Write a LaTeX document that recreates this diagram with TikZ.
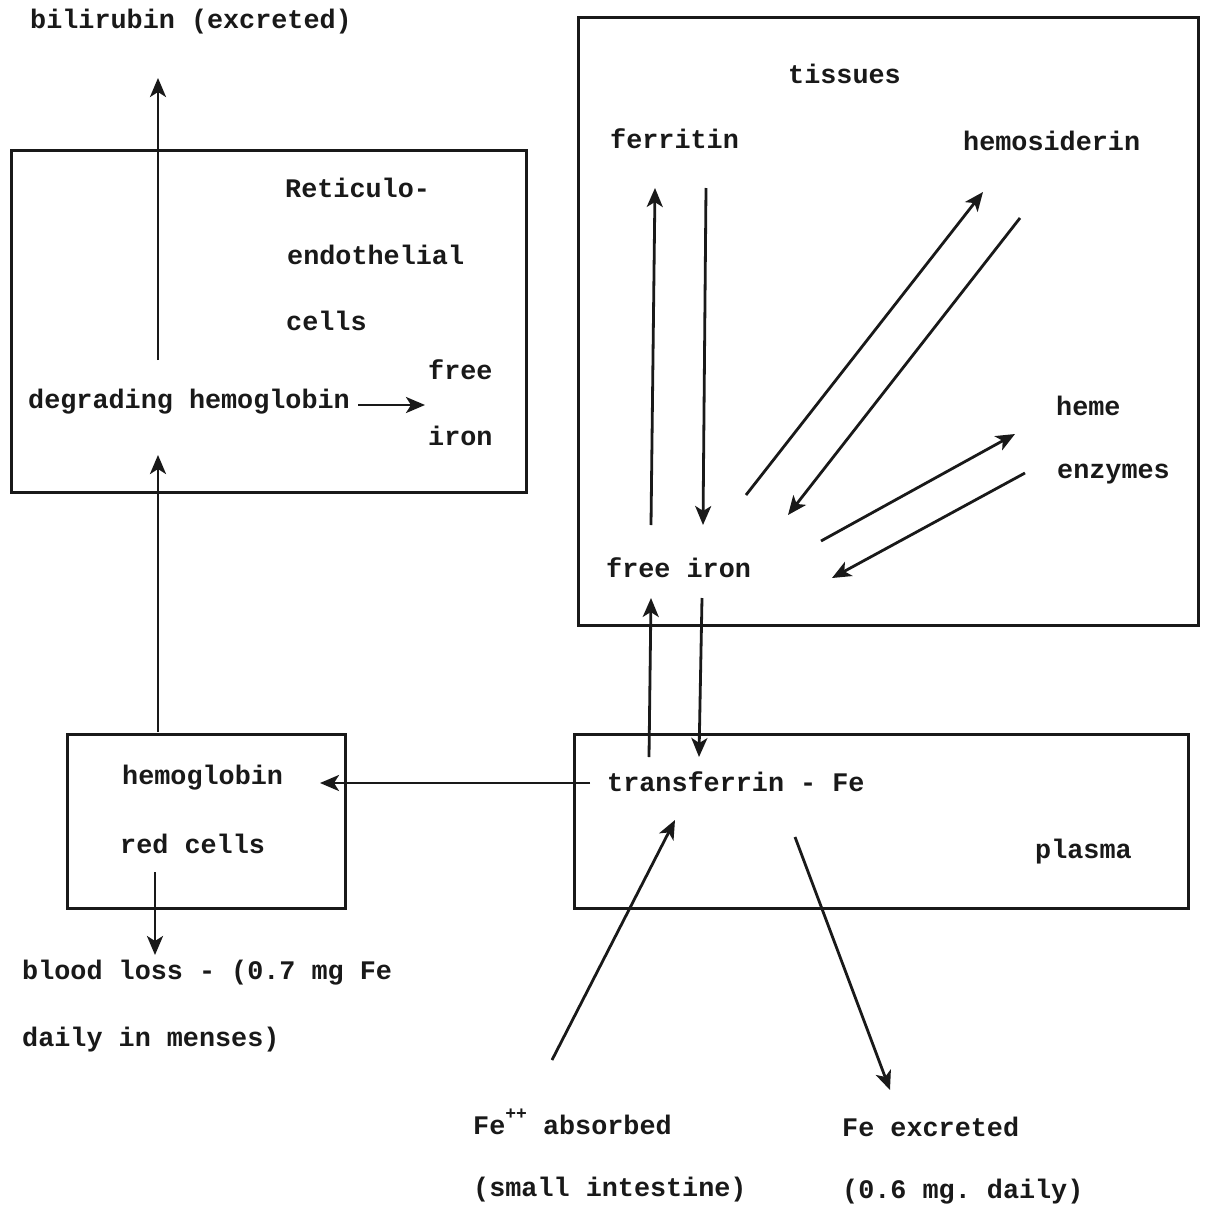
\documentclass[tikz,border=0pt]{standalone}
\usepackage{fontspec}
\setmonofont{Liberation Mono}
\usetikzlibrary{arrows.meta}
\begin{document}
\begin{tikzpicture}[x=1pt,y=-1pt,
  lbl/.style={anchor=west,inner sep=0pt,font=\fontsize{26.8}{30}\selectfont\ttfamily\bfseries,text=black!90},
  box/.style={draw=black!90,line width=2.8pt},
  arr/.style={draw=black!90,line width=2.8pt,-{Stealth[length=19pt,width=16pt,inset=5pt]}}]
\useasboundingbox[fill=white] (0,0) rectangle (1209,1213);
% boxes
\node[box,inner sep=0pt,minimum width=515pt,minimum height=342pt,anchor=north west] (rebox) at (10,149) {};
\node[box,inner sep=0pt,minimum width=620pt,minimum height=608pt,anchor=north west] (tisbox) at (577,16) {};
\node[box,inner sep=0pt,minimum width=278pt,minimum height=174pt,anchor=north west] (hbbox) at (66,733) {};
\node[box,inner sep=0pt,minimum width=614pt,minimum height=174pt,anchor=north west] (plbox) at (573,733) {};
% labels
\node[lbl] (bili) at (30,22) {bilirubin (excreted)};
\node[lbl] (ret1) at (285,188) {Reticulo-};
\node[lbl] (ret2) at (287,255) {endothelial};
\node[lbl] (ret3) at (286,321) {cells};
\node[lbl] (fi1) at (428,370) {free};
\node[lbl] (fi2) at (428,436) {iron};
\node[lbl] (deg) at (28,402) {degrading hemoglobin};
\node[lbl] (tis) at (788,74) {tissues};
\node[lbl] (fer) at (610,139) {ferritin};
\node[lbl] (hms) at (963,141) {hemosiderin};
\node[lbl] (heme) at (1056,406) {heme};
\node[lbl] (enz) at (1057,474) {enzymes};
\node[lbl] (fri) at (606,568) {free iron};
\node[lbl] (hb) at (122,778) {hemoglobin};
\node[lbl] (rc) at (120,844) {red cells};
\node[lbl] (tf) at (607,782) {transferrin - Fe};
\node[lbl] (pl) at (1035,852) {plasma};
\node[lbl] (bl1) at (22,973) {blood loss - (0.7 mg Fe};
\node[lbl] (bl2) at (22,1040) {daily in menses)};
\node[lbl] (ab1) at (473,1125) {Fe\smash{\raisebox{0.55em}{\fontsize{18}{20}\selectfont ++}} absorbed};
\node[lbl] (ab2) at (473,1190) {(small intestine)};
\node[lbl] (ex1) at (842,1127) {Fe excreted};
\node[lbl] (ex2) at (842,1192) {(0.6 mg. daily)};
% arrow end points
\coordinate (a1s) at (158,360); \coordinate (a1e) at (158,78);
\coordinate (a2s) at (158,732); \coordinate (a2e) at (158,455);
\coordinate (a3s) at (358,405); \coordinate (a3e) at (425,405);
\coordinate (a4s) at (590,783); \coordinate (a4e) at (320,783);
\coordinate (a5s) at (155,872); \coordinate (a5e) at (155,955);
\coordinate (a6s) at (651,525); \coordinate (a6e) at (655,188);
\coordinate (a7s) at (706,188); \coordinate (a7e) at (703,525);
\coordinate (a8s) at (746,495); \coordinate (a8e) at (983,192);
\coordinate (a9s) at (1020,218); \coordinate (a9e) at (788,515);
\coordinate (b1s) at (821,541); \coordinate (b1e) at (1015,434);
\coordinate (b2s) at (1025,473); \coordinate (b2e) at (832,578);
\coordinate (b3s) at (649,757); \coordinate (b3e) at (651,598);
\coordinate (b4s) at (702,598); \coordinate (b4e) at (699,757);
\coordinate (b5s) at (552,1060); \coordinate (b5e) at (675,820);
\coordinate (b6s) at (795,837); \coordinate (b6e) at (890,1090);
\foreach \p in {a1,a2,a3,a4,a5,a6,a7,a8,a9,b1,b2,b3,b4,b5,b6}
  \draw[arr] (\p s) -- (\p e);
\end{tikzpicture}
\end{document}
